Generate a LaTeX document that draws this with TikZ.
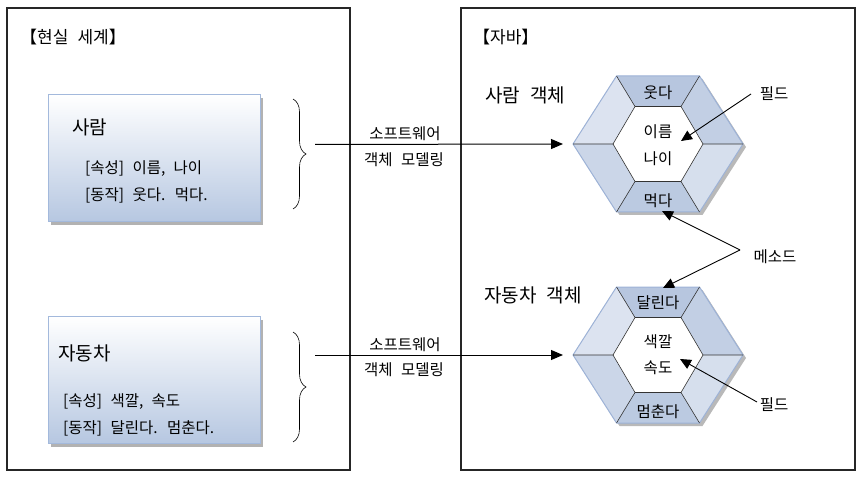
\documentclass[tikz,border=0pt]{standalone}
\usepackage{fontspec}
\setmainfont{Noto Sans CJK KR}[WordSpace=2.4]
\usetikzlibrary{arrows.meta,decorations.pathreplacing,shadows,calc}
\definecolor{boxline}{HTML}{A3B9DC}
\definecolor{boxbot}{HTML}{B6C7E1}
\definecolor{hexrimc}{HTML}{9DB2D6}
\definecolor{hT}{HTML}{B7C6DF}
\definecolor{hB}{HTML}{BBCAE1}
\definecolor{hUL}{HTML}{DCE3F0}
\definecolor{hLL}{HTML}{CBD6E8}
\definecolor{hUR}{HTML}{C2CFE4}
\definecolor{hLR}{HTML}{D6DFED}
\newcommand\myhex[1]{%
  \coordinate (#1oL) at (-85,0); \coordinate (#1oTL) at (-41.5,-68);
  \coordinate (#1oTR) at (41.5,-68); \coordinate (#1oR) at (85,0);
  \coordinate (#1oBR) at (41.5,68); \coordinate (#1oBL) at (-41.5,68);
  \coordinate (#1iL) at (-45,0); \coordinate (#1iTL) at (-23,-37.5);
  \coordinate (#1iTR) at (23,-37.5); \coordinate (#1iR) at (45,0);
  \coordinate (#1iBR) at (23,37.5); \coordinate (#1iBL) at (-23,37.5);
  \fill[gray!55] (-82,3) -- (-38.5,-65) -- (44.5,-65) -- (88,3) -- (44.5,71) -- (-38.5,71) -- cycle;
  \fill[hT] (#1oTL) -- (#1oTR) -- (#1iTR) -- (#1iTL) -- cycle;
  \fill[hB] (#1oBL) -- (#1oBR) -- (#1iBR) -- (#1iBL) -- cycle;
  \fill[hUL] (#1oTL) -- (#1iTL) -- (#1iL) -- (#1oL) -- cycle;
  \fill[hLL] (#1oL) -- (#1iL) -- (#1iBL) -- (#1oBL) -- cycle;
  \fill[hUR] (#1oTR) -- (#1oR) -- (#1iR) -- (#1iTR) -- cycle;
  \fill[hLR] (#1oR) -- (#1oBR) -- (#1iBR) -- (#1iR) -- cycle;
  \fill[white] (#1iL) -- (#1iTL) -- (#1iTR) -- (#1iR) -- (#1iBR) -- (#1iBL) -- cycle;
  \draw[hexrim] (#1oL) -- (#1oTL) -- (#1oTR) -- (#1oR) -- (#1oBR) -- (#1oBL) -- cycle;
  \draw[hexline] (#1iL) -- (#1iTL) -- (#1iTR) -- (#1iR) -- (#1iBR) -- (#1iBL) -- cycle;
  \draw[hexline] (#1oL) -- (#1iL) (#1oTL) -- (#1iTL) (#1oTR) -- (#1iTR)
                 (#1oR) -- (#1iR) (#1oBR) -- (#1iBR) (#1oBL) -- (#1iBL);
}
\begin{document}
\begin{tikzpicture}[x=1pt,y=-1pt,
  frame/.style={draw=black!85,line width=1.6pt},
  title/.style={font=\fontsize{17}{20}\selectfont,anchor=west,inner sep=0pt},
  bigtxt/.style={font=\fontsize{19}{22}\selectfont,anchor=west,inner sep=0pt},
  smalltxt/.style={font=\fontsize{15.5}{18}\selectfont,anchor=west,inner sep=0pt},
  lbl/.style={font=\fontsize{15.5}{18}\selectfont,inner sep=0pt},
  realbox/.style={draw=boxline,line width=1pt,top color=white,bottom color=boxbot,
     minimum width=212pt,minimum height=127pt,inner sep=0pt,
     drop shadow={shadow xshift=3pt,shadow yshift=-3pt,fill=gray!60,opacity=1}},
  hexrim/.style={draw=hexrimc,line width=1pt,line join=round},
  hexline/.style={draw=black!80,line width=0.6pt},
  bracestyle/.style={decorate,decoration={brace,amplitude=13pt},line width=0.6pt},
  bigarrow/.style={line width=1pt,-{Triangle[length=12pt,width=10pt]}},
  callout/.style={line width=0.9pt,-{Triangle[length=11pt,width=10pt]}}]
\useasboundingbox (0,0) rectangle (864,478);
% frames
\draw[frame] (7,8) rectangle (350,470);
\draw[frame] (461,8) rectangle (855,470);
\node[title] (treal) at (20,37) {【현실 세계】};
\node[title] (tjava) at (473,37) {【자바】};
% real-world boxes
\node[realbox] (box1) at (154,158.5) {};
\node[bigtxt] (n1) at (72,127) {사람};
\node[smalltxt] (n1a) at (85,169) {[속성] 이름, 나이};
\node[smalltxt] (n1b) at (85,195) {[동작] 웃다. 먹다.};
\node[realbox] (box2) at (154,380) {};
\node[bigtxt] (n2) at (58,353) {자동차};
\node[smalltxt] (n2a) at (63,402) {[속성] 색깔, 속도};
\node[smalltxt] (n2b) at (63,428) {[동작] 달린다. 멈춘다.};
% braces
\coordinate (b1t) at (293,99); \coordinate (b1b) at (293,209);
\draw[bracestyle] (b1t) -- (b1b);
\coordinate (b2t) at (293,332); \coordinate (b2b) at (293,442);
\draw[bracestyle] (b2t) -- (b2b);
% hexagons
\begin{scope}[shift={(658,144)}]\myhex{h1}\end{scope}
\begin{scope}[shift={(658,355)}]\myhex{h2}\end{scope}
\node[lbl] (h1a) at (658,93) {웃다};
\node[lbl] (h1b) at (658,132) {이름};
\node[lbl] (h1c) at (658,159) {나이};
\node[lbl] (h1d) at (658,201) {먹다};
\node[lbl] (h2a) at (658,303) {달린다};
\node[lbl] (h2b) at (658,342) {색깔};
\node[lbl] (h2c) at (658,368) {속도};
\node[lbl] (h2d) at (658,412) {멈춘다};
\node[bigtxt] (o1) at (485,95) {사람 객체};
\node[bigtxt] (o2) at (484,295) {자동차 객체};
% modeling arrows
\coordinate (a1s) at (315,144.5);
\draw[bigarrow] (a1s) -- ([xshift=-10pt]h1oL);
\node[lbl] (sw1) at (405,134) {소프트웨어};
\node[lbl] (om1) at (404,160) {객체 모델링};
\coordinate (a2s) at (315,355);
\draw[bigarrow] (a2s) -- ([xshift=-10pt]h2oL);
\node[lbl] (sw2) at (405,345) {소프트웨어};
\node[lbl] (om2) at (404,370) {객체 모델링};
% callouts
\node[lbl] (f1) at (774,94) {필드};
\coordinate (f1s) at (751,94); \coordinate (f1e) at (681,141);
\draw[callout] (f1s) -- (f1e);
\node[lbl] (m1) at (775,257) {메소드};
\coordinate (m0) at (740,250);
\coordinate (m1e) at (662,211); \coordinate (m2e) at (663,288);
\draw[callout] (m0) -- (m1e);
\draw[callout] (m0) -- (m2e);
\node[lbl] (f2) at (774,405) {필드};
\coordinate (f2s) at (757,402); \coordinate (f2e) at (680,359);
\draw[callout] (f2s) -- (f2e);
\end{tikzpicture}
\end{document}
